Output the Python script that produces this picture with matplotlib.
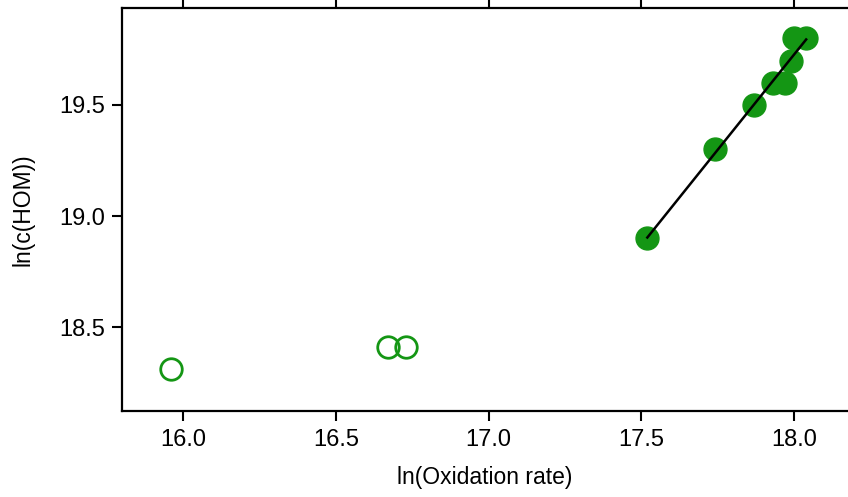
import numpy as np
import matplotlib
matplotlib.use("Agg")
import matplotlib.pyplot as plt

plt.rcParams['font.family'] = ['Liberation Sans', 'DejaVu Sans']

# fitted (filled) points
fit_x = [17.52, 17.74, 17.87, 17.93, 17.97, 17.99, 18.00, 18.04]
fit_y = [18.90, 19.30, 19.50, 19.60, 19.60, 19.70, 19.80, 19.80]
# excluded (open) points
out_x = [15.96, 16.67, 16.73]
out_y = [18.31, 18.41, 18.41]

xticks = [16.0, 16.5, 17.0, 17.5, 18.0]
yticks = [18.5, 19.0, 19.5]

green = '#149614'

fig = plt.figure(figsize=(8.48, 4.97), dpi=100)
ax = fig.add_axes([0.1439, 0.173, 0.8561, 0.811])

ax.plot(out_x, out_y, 'o', ms=15.5, mfc='none', mec=green, mew=2, zorder=3)
ax.plot(fit_x, fit_y, 'o', ms=16.5, color=green, zorder=2)

k, b = np.polyfit(fit_x, fit_y, 1)
lx = np.array([min(fit_x), max(fit_x)])
ax.plot(lx, k * lx + b, color='black', lw=1.8, zorder=4)

ax.set_xlim(15.8, 18.177)
ax.set_ylim(18.122, 19.937)
ax.set_xticks(xticks)
ax.set_yticks(yticks)
ax.xaxis.set_major_formatter(matplotlib.ticker.FormatStrFormatter('%.1f'))
ax.yaxis.set_major_formatter(matplotlib.ticker.FormatStrFormatter('%.1f'))
ax.tick_params(axis='x', which='both', direction='out', length=7, width=1.5,
               top=True, labeltop=False, labelsize=17, pad=6)
ax.tick_params(axis='y', direction='out', length=7, width=1.5, labelsize=17, pad=5)
ax.spines['right'].set_visible(False)
for s in ['left', 'top', 'bottom']:
    ax.spines[s].set_linewidth(1.6)

ax.set_xlabel('ln(Oxidation rate)', fontsize=16.5, labelpad=11)
ax.set_ylabel('ln(c(HOM))', fontsize=16.5, labelpad=18)

fig.savefig('out.png', dpi=100)
